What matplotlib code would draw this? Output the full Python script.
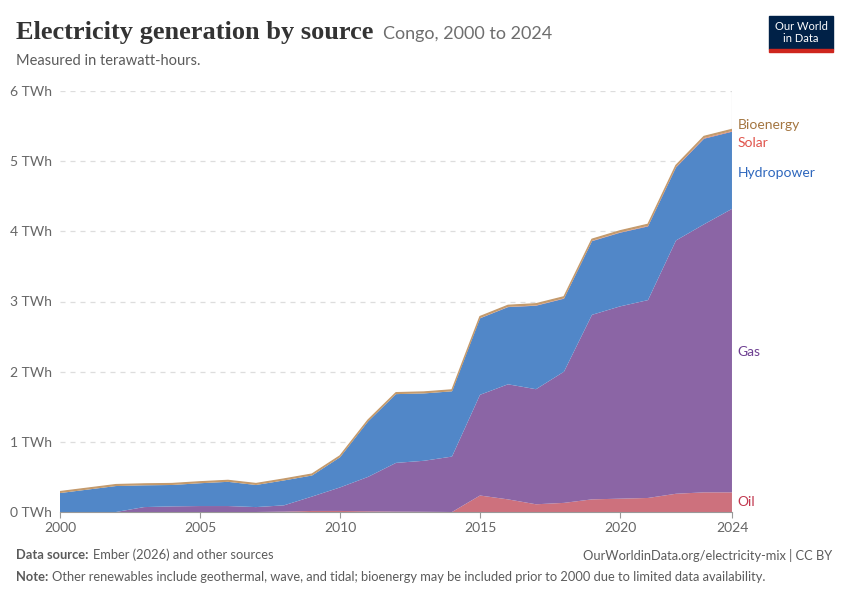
import matplotlib
matplotlib.use("Agg")
import matplotlib.pyplot as plt
from matplotlib.patches import Rectangle

years = list(range(2000, 2025))

# TWh (stack order bottom -> top)
oil = [0, 0, 0, 0, 0, 0, 0, 0, 0.005, 0.015, 0.015, 0.01, 0.005, 0.003, 0,
       0.235, 0.18, 0.11, 0.13, 0.18, 0.19, 0.20, 0.26, 0.28, 0.28]
gas = [0, 0, 0, 0.07, 0.08, 0.085, 0.085, 0.07, 0.09, 0.205, 0.335, 0.49, 0.695,
       0.727, 0.79, 1.435, 1.64, 1.64, 1.87, 2.63, 2.74, 2.82, 3.61, 3.82, 4.04]
hydro = [0.27, 0.32, 0.37, 0.31, 0.305, 0.325, 0.345, 0.315, 0.355, 0.30, 0.43,
         0.79, 0.98, 0.96, 0.93, 1.09, 1.10, 1.19, 1.04, 1.05, 1.05, 1.05, 1.04,
         1.22, 1.10]
solar = [0] * 15 + [0.003, 0.003, 0.005, 0.005, 0.005, 0.005, 0.008, 0.008, 0.01, 0.01]
bioenergy = [0.02] * 15 + [0.022] * 10

series_names = ["Oil", "Gas", "Hydropower", "Solar", "Bioenergy"]
area_colors = ["#cd717d", "#8b65a5", "#5187c8", "#e0796a", "#c49a6c"]
label_colors = ["#c2384f", "#6d3e91", "#2e67bd", "#e0534b", "#a47641"]
label_y = [0.14, 2.28, 4.83, 5.26, 5.52]

y_ticks = [0, 1, 2, 3, 4, 5, 6]
x_ticks = [2000, 2005, 2010, 2015, 2020, 2024]

fig = plt.figure(figsize=(8.5, 6), dpi=100)
ax = fig.add_axes([60 / 850, 88 / 600, 672 / 850, 421 / 600])

ax.stackplot(years, oil, gas, hydro, solar, bioenergy, colors=area_colors,
             linewidth=0, zorder=2)

# thin tan edge on top of the stack
total = [o + g + h + s + b for o, g, h, s, b in zip(oil, gas, hydro, solar, bioenergy)]
ax.plot(years, total, color="#c49a6c", lw=1.0, zorder=3)

ax.set_xlim(2000, 2024)
ax.set_ylim(0, 6)
ax.set_yticks(y_ticks)
ax.set_yticklabels([f"{t} TWh" for t in y_ticks])
ax.set_xticks(x_ticks)
ax.set_xticklabels([str(t) for t in x_ticks])
ax.grid(axis="y", color="#dddddd", linestyle=(0, (4, 4)), lw=0.9, zorder=1)
for side in ["top", "right", "left"]:
    ax.spines[side].set_visible(False)
ax.spines["bottom"].set_color("#999999")
ax.tick_params(axis="y", length=0, pad=6, labelsize=10, labelcolor="#666666")
ax.tick_params(axis="x", length=4, color="#999999", labelsize=10,
               labelcolor="#666666", pad=3)
for lbl in ax.get_xticklabels() + ax.get_yticklabels():
    lbl.set_family("Lato")
ax.axvline(2024, color="#bbbbbb", lw=0.8, zorder=4)

for name, col, yv in zip(series_names, label_colors, label_y):
    ax.text(2024.2, yv, name, color=col, fontsize=10, family="Lato",
            va="center", ha="left", clip_on=False)

# header
fig.text(16 / 850, 1 - 32 / 600, "Electricity generation by source",
         fontsize=19, family="Liberation Serif", weight="bold",
         color="#333333", va="center")
fig.text(383 / 850, 1 - 34 / 600, "Congo, 2000 to 2024", fontsize=13,
         family="Lato", color="#6e6e6e", va="center")
fig.text(16 / 850, 1 - 61 / 600, "Measured in terawatt-hours.", fontsize=10.5,
         family="Lato", color="#5b5b5b", va="center")

# logo
fig.patches.append(Rectangle((769 / 850, 1 - 49 / 600), 64 / 850, 33 / 600,
                             transform=fig.transFigure, color="#002147"))
fig.patches.append(Rectangle((769 / 850, 1 - 52 / 600), 64 / 850, 3 / 600,
                             transform=fig.transFigure, color="#ce261e"))
fig.text(801 / 850, 1 - 32.5 / 600, "Our World\nin Data", fontsize=8,
         family="Lato", color="white", ha="center", va="center",
         linespacing=1.0)

# footer
foot_size = 9.3
fig.text(16 / 850, 1 - 555 / 600, "Data source:", fontsize=foot_size, family="Lato",
         weight="bold", color="#5b5b5b", va="center")
fig.text(93 / 850, 1 - 555 / 600, "Ember (2026) and other sources", fontsize=foot_size,
         family="Lato", color="#5b5b5b", va="center")
fig.text(832 / 850, 1 - 555 / 600, "OurWorldinData.org/electricity-mix | CC BY",
         fontsize=foot_size, family="Lato", color="#5b5b5b", va="center", ha="right")
fig.text(16 / 850, 1 - 577 / 600, "Note:", fontsize=foot_size, family="Lato",
         weight="bold", color="#5b5b5b", va="center")
fig.text(52 / 850, 1 - 577 / 600,
         "Other renewables include geothermal, wave, and tidal; bioenergy may be "
         "included prior to 2000 due to limited data availability.",
         fontsize=foot_size, family="Lato", color="#5b5b5b", va="center")

fig.savefig("out.png", dpi=100, facecolor="white")
